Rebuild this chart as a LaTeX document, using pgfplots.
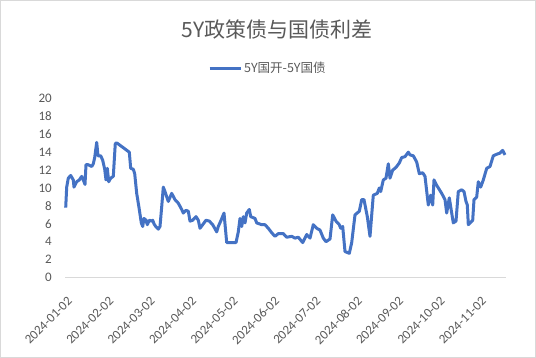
\documentclass[border=0pt]{standalone}
\usepackage{pgfplots}
\pgfplotsset{compat=1.18}
\usepackage{fontspec}
\setmainfont{Carlito}
\newfontfamily\cjk{Noto Sans CJK SC}
\definecolor{txt}{HTML}{595959}
\definecolor{ln}{HTML}{4472C4}
\definecolor{frm}{HTML}{D9D9D9}
\begin{document}
\begin{tikzpicture}
\fill[white] (0pt,0pt) rectangle (536pt,358pt);
\draw[frm, line width=1pt] (0.5pt,0.5pt) rectangle (535.5pt,357.5pt);
\node[text=txt, font=\cjk\fontsize{21}{24}\selectfont] at (277pt,328.5pt) {5Y政策债与国债利差};
\begin{axis}[
  at={(65pt,80.5pt)}, anchor=south west,
  scale only axis, width=441pt, height=179pt,
  xmin=65, xmax=506, ymin=0, ymax=20,
  axis line style={draw=none},
  axis x line*=bottom,
  axis y line=none,
  ytick={0,2,...,20},
  xtick={70,111.4,152.8,194.2,235.6,277,318.4,359.8,401.2,442.6,484},
  xticklabels={2024-01-02,2024-02-02,2024-03-02,2024-04-02,2024-05-02,2024-06-02,2024-07-02,2024-08-02,2024-09-02,2024-10-02,2024-11-02},
  major tick length=0pt,
  tick label style={text=txt, font=\fontsize{13}{15}\selectfont},
  xticklabel style={yshift=-21.5pt, rotate=45, anchor=east, inner sep=0pt},
  /pgf/number format/assume math mode=true,
  legend style={at={(0.46,1.17)}, anchor=center, draw=none, fill=none,
    font=\cjk\fontsize{12.5}{14}\selectfont, text=txt},
  legend image code/.code={\draw[#1] (0pt,0pt) -- (31pt,0pt);},
  clip=false,
]
\draw[frm, line width=1pt] (axis cs:65,0) -- (axis cs:506,0);
\pgfplotsextra{\foreach \v in {0,2,...,20} {\node[anchor=east, inner sep=0pt, text=txt, font=\fontsize{13}{15}\selectfont] at (axis cs:65,\v) [xshift=-13pt] {\v};}}
\addplot[ln, line width=3pt, line join=round] table[x=px,y=v] {
px v
65.7 7.8
66.7 10.1
68.3 11.1
70.7 11.4
73.3 10.9
74 10.1
76.7 10.7
79.3 10.9
81.7 11.3
84 10.7
85 10.4
86 12.6
88.3 12.6
91.7 12.4
93.3 12.7
94.7 13.4
96.7 15.1
98 13.6
100.7 13.6
102.7 13.1
104.7 12.1
106 10.9
107.3 12.2
108.7 10.7
110.7 11.1
113.3 11.3
115.3 15.0
117.3 15.0
129.3 14.0
130.7 12.2
133.3 12.1
134.7 11.6
136.7 9.4
139.3 7.6
141.3 6.1
142.7 5.7
144 6.6
146 6.4
147.3 5.9
149.3 6.4
151.7 6.3
152.7 6.4
154 6.0
155.7 5.7
158.3 5.4
160 5.7
161.7 7.9
163.3 10.1
165 9.6
168.3 8.5
171.7 9.4
175 8.7
178.3 8.3
181.7 7.6
183.3 7.2
186 7.5
188.3 7.4
190 6.3
192.7 6.4
196 6.8
198.3 6.4
200 5.5
202.7 5.9
206 6.4
209.3 6.3
212.7 5.9
216.7 5.1
218.3 5.7
220.7 6.3
224 7.2
226.7 3.9
236 3.9
238.3 5.1
240 6.6
241.7 5.7
243.3 6.8
245 6.1
246.7 7.2
249.3 7.6
250.7 6.8
255 6.6
256.7 6.1
261.7 5.9
265 5.9
268.3 5.5
271.7 5.0
275 4.6
278.3 4.9
283.3 4.9
286.7 4.5
291.7 4.6
295 4.4
298.3 4.5
302.7 3.9
306.7 4.8
310 4.4
313.3 5.9
316.7 5.5
320 5.3
323.3 4.4
326 4.0
330 4.3
332.7 7.0
336 6.3
339.3 5.9
340.7 5.5
342.7 5.7
345 2.9
349.3 2.7
351.7 3.9
355 7.0
359.3 7.4
361.7 8.7
364 8.7
367.3 6.8
370 4.6
373.3 9.2
377.3 9.4
379.3 10.0
380.7 9.6
383.3 10.9
386 11.1
388.3 12.7
390 11.1
392.7 12.0
396 12.3
399.3 12.8
401.7 13.4
405 13.5
408.3 14.0
410 13.7
413.3 13.6
416.7 12.9
419.3 11.6
422.7 11.7
425 11.3
428.3 8.1
430.7 9.2
432.7 8.1
434 10.9
436.7 10.3
441.7 9.4
445 8.7
446.7 7.2
449.3 8.9
451.7 7.2
453.3 6.1
456 6.3
458.3 9.6
461.7 9.8
464 9.6
466 8.5
467.3 8.1
468.3 5.9
470 6.1
472.7 6.4
474 8.7
476.7 9.0
478.3 10.7
480.7 10.1
483.3 10.9
486.7 12.2
490 12.4
493.3 13.6
497.3 13.8
500 13.9
502.7 14.2
505 13.7
};
\addlegendentry{5Y国开-5Y国债}
\end{axis}
\end{tikzpicture}
\end{document}
